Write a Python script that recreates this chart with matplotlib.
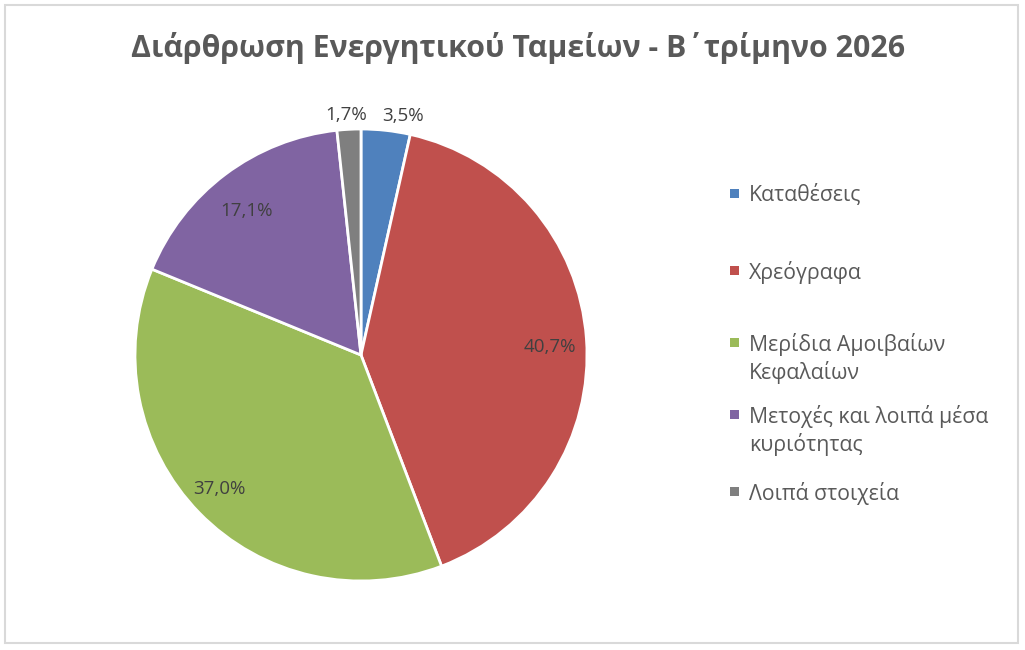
import numpy as np
import matplotlib
matplotlib.use("Agg")
import matplotlib.pyplot as plt
from matplotlib.patches import Rectangle
from matplotlib.transforms import offset_copy

plt.rcParams['font.family'] = ['Open Sans', 'DejaVu Sans']

title = "Διάρθρωση Ενεργητικού Ταμείων - Β΄τρίμηνο 2026"
categories = ["Καταθέσεις", "Χρεόγραφα", "Μερίδια Αμοιβαίων\nΚεφαλαίων",
              "Μετοχές και λοιπά μέσα\nκυριότητας", "Λοιπά στοιχεία"]
values = [3.5, 40.7, 37.0, 17.1, 1.7]
colors = ["#4F81BD", "#C0504D", "#9BBB59", "#8064A2", "#7F7F7F"]

# label placement (style)
label_dist = [1.075, 0.84, 0.86, 0.84, 1.075]
label_dx = [15, 0, -2, 0, -2]   # pixel nudges
label_dy = [0, -4, 4, -6, -1]

W, H = 1025, 650
fig = plt.figure(figsize=(W / 100, H / 100), dpi=100)

cx, cy, r = 361, 355, 226
ax = fig.add_axes([(cx - r) / W, (H - cy - r) / H, 2 * r / W, 2 * r / H])
wedges, _ = ax.pie(values, colors=colors, startangle=90, counterclock=False,
                   radius=1, wedgeprops=dict(edgecolor='white', linewidth=2))
ax.set_xlim(-1, 1)
ax.set_ylim(-1, 1)
ax.set_aspect('equal')
ax.axis('off')

for w, v, d, dx, dy in zip(wedges, values, label_dist, label_dx, label_dy):
    ang = np.deg2rad((w.theta1 + w.theta2) / 2)
    tr = offset_copy(ax.transData, fig=fig, x=dx, y=dy, units='dots')
    ax.text(d * np.cos(ang), d * np.sin(ang), f"{v:.1f}%".replace('.', ','),
            ha='center', va='center_baseline', fontsize=13.5, color='#404040',
            clip_on=False, transform=tr)

fig.text(518 / W, 1 - 45 / H, title, ha='center', va='center_baseline',
         fontsize=21.8, fontweight='bold', color='#595959')

# legend
leg_y = [193, 270, 342, 414, 491]
line_gap = 28
for cat, col, y in zip(categories, colors, leg_y):
    fig.patches.append(Rectangle((730 / W, 1 - (y + 4.5) / H), 9 / W, 9 / H,
                                 transform=fig.transFigure, facecolor=col,
                                 edgecolor='none'))
    for i, line in enumerate(cat.split("\n")):
        fig.text(749 / W, 1 - (y + i * line_gap) / H, line, ha='left',
                 va='center_baseline', fontsize=15.3, color='#595959')

# border
fig.patches.append(Rectangle((5 / W, 1 - 643 / H), 1013 / W, 638 / H,
                             transform=fig.transFigure, fill=False,
                             edgecolor='#D9D9D9', linewidth=1.5))

fig.savefig("out.png", dpi=100)
